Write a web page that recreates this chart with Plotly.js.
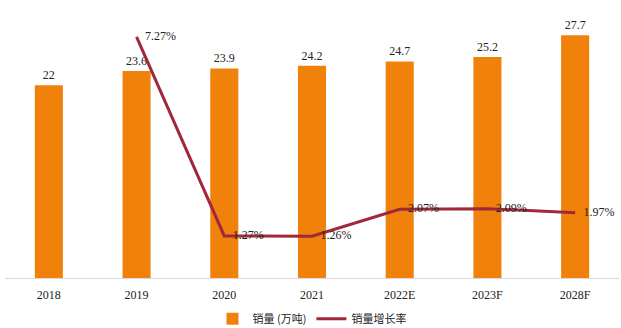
<!DOCTYPE html>
<html><head><meta charset="utf-8">
<script src="https://cdn.plot.ly/plotly-3.0.1.min.js"></script>
<style>body{margin:0;background:#fff}#chart{width:621px;height:328px}</style>
</head><body><div id="chart"></div>
<script>
const categories = ["2018","2019","2020","2021","2022E","2023F","2028F"];
const sales = [22, 23.6, 23.9, 24.2, 24.7, 25.2, 27.7];
const growthCats = ["2019","2020","2021","2022E","2023F","2028F"];
const growth = [7.27, 1.27, 1.26, 2.07, 2.09, 1.97];
const growthLabels = ["7.27%","1.27%","1.26%","2.07%","2.09%","1.97%"];

const traces = [
  {type:"bar", x:categories, y:sales, name:"销量 (万吨)",
   marker:{color:"#F0820B"}, width:0.32,
   text:sales.map(String), textposition:"outside", cliponaxis:false,
   textfont:{family:"Liberation Serif", size:12, color:"#222"}},
  {type:"scatter", mode:"lines+text", x:growthCats, y:growth, yaxis:"y2", name:"销量增长率",
   line:{color:"#A0283A", width:3}, text:growthLabels.map(s => "\u2002\u2009" + s), textposition:"middle right",
   cliponaxis:false,
   textfont:{family:"Liberation Serif", size:12, color:"#222"}}
];
const layout = {
  width:621, height:328,
  margin:{l:5, r:2, t:15, b:50, autoexpand:false},
  paper_bgcolor:"#fff", plot_bgcolor:"#fff",
  showlegend:true,
  legend:{orientation:"h", x:0.5, xanchor:"center", y:-0.1, yanchor:"top",
    font:{family:"Noto Sans CJK SC", size:11, color:"#222"}},
  bargap:0.68,
  xaxis:{type:"category", showline:true, linecolor:"#d9d9d9", linewidth:1, ticks:"",
    ticklabelstandoff:6, automargin:false,
    tickfont:{family:"Liberation Serif", size:12, color:"#222"}, showgrid:false},
  yaxis:{range:[0,30], visible:false, showgrid:false, zeroline:false},
  yaxis2:{range:[0,7.93], overlaying:"y", side:"right", visible:false, showgrid:false, zeroline:false},
};
Plotly.newPlot("chart", traces, layout, {displayModeBar:false, staticPlot:true});
</script></body></html>
